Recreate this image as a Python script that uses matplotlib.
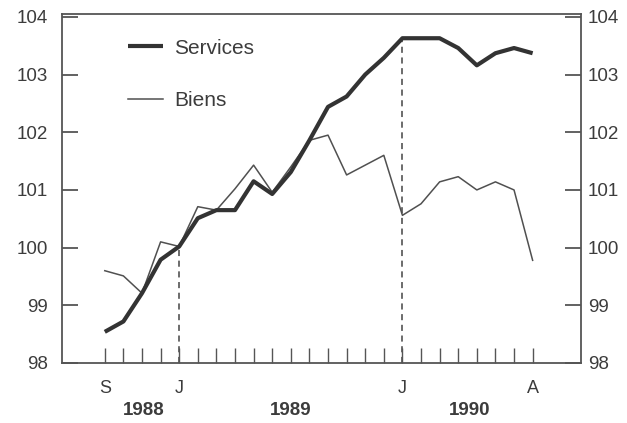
import matplotlib
matplotlib.use("Agg")
import matplotlib.pyplot as plt
import matplotlib.transforms as mtransforms

plt.rcParams['font.family'] = ['Liberation Sans', 'DejaVu Sans']

# Monthly index: 0 = Sep 1988 ... 23 = Aug 1990
months = list(range(24))
services = [98.54, 98.72, 99.21, 99.79, 100.02, 100.51, 100.65, 100.65, 101.15, 100.93,
            101.31, 101.86, 102.44, 102.62, 103.00, 103.29, 103.63, 103.63, 103.63, 103.46,
            103.16, 103.37, 103.46, 103.37]
biens = [99.60, 99.51, 99.21, 100.10, 100.02, 100.71, 100.65, 101.02, 101.43, 100.96,
         101.40, 101.86, 101.95, 101.26, 101.43, 101.60, 100.56, 100.76, 101.14, 101.23,
         101.00, 101.14, 101.00, 99.78]
month_labels = {0: "S", 4: "J", 16: "J", 23: "A"}
years = ["1988", "1989", "1990"]
year_pos = [2.1, 10.0, 19.6]
yticks = [98, 99, 100, 101, 102, 103, 104]
marker_months = [4, 16]

ink = "#3c3c3c"
fig = plt.figure(figsize=(6.27, 4.23), dpi=100)
ax = fig.add_axes([62/627, 60/423, (581-62)/627, (363-14)/423])

ax.plot(months, services, color="#333333", lw=3.0, solid_joinstyle="round",
        solid_capstyle="butt", label="Services", zorder=3)
ax.plot(months, biens, color="#505050", lw=1.1, label="Biens", zorder=2)

for m in marker_months:
    ax.vlines(m, 98, services[m], colors="#444444", lw=1.1,
              linestyles=(0, (4, 3)), zorder=1)

ax.set_xlim(-2.3, 25.6)
ax.set_ylim(98, 104.05)

for s in ax.spines.values():
    s.set_color("#555555")
    s.set_linewidth(1.3)

# x ticks
ax.set_xticks(months)
ax.set_xticklabels([month_labels.get(m, "") for m in months])
ax.tick_params(axis="x", direction="in", length=10.8, width=1.0, color="#555555",
               labelsize=13, labelcolor=ink, pad=12)

# y ticks left
ax.set_yticks(yticks)
ax.set_yticklabels([str(v) for v in yticks])
ax.tick_params(axis="y", direction="in", length=11.5, width=1.3, color="#555555",
               labelsize=13.5, labelcolor=ink, pad=10)

# right axis
ax2 = ax.twinx()
ax2.set_ylim(ax.get_ylim())
ax2.set_yticks(yticks)
ax2.set_yticklabels([str(v) for v in yticks])
ax2.tick_params(axis="y", direction="in", length=11.5, width=1.3, color="#555555",
                labelsize=13.5, labelcolor=ink, pad=5)
for s in ax2.spines.values():
    s.set_visible(False)

trans = mtransforms.blended_transform_factory(ax.transData, ax.transAxes)
for y, xp in zip(years, year_pos):
    ax.text(xp, -0.1375, y, transform=trans, ha="center", va="center",
            fontsize=13.5, fontweight="bold", color=ink)

leg = ax.legend(loc="upper left", bbox_to_anchor=(0.099, 0.971), frameon=False,
                fontsize=15, handlelength=1.68, handletextpad=0.55,
                labelspacing=1.62, borderpad=0.2)
for t in leg.get_texts():
    t.set_color(ink)

fig.savefig("out.png", dpi=100, facecolor="white")
